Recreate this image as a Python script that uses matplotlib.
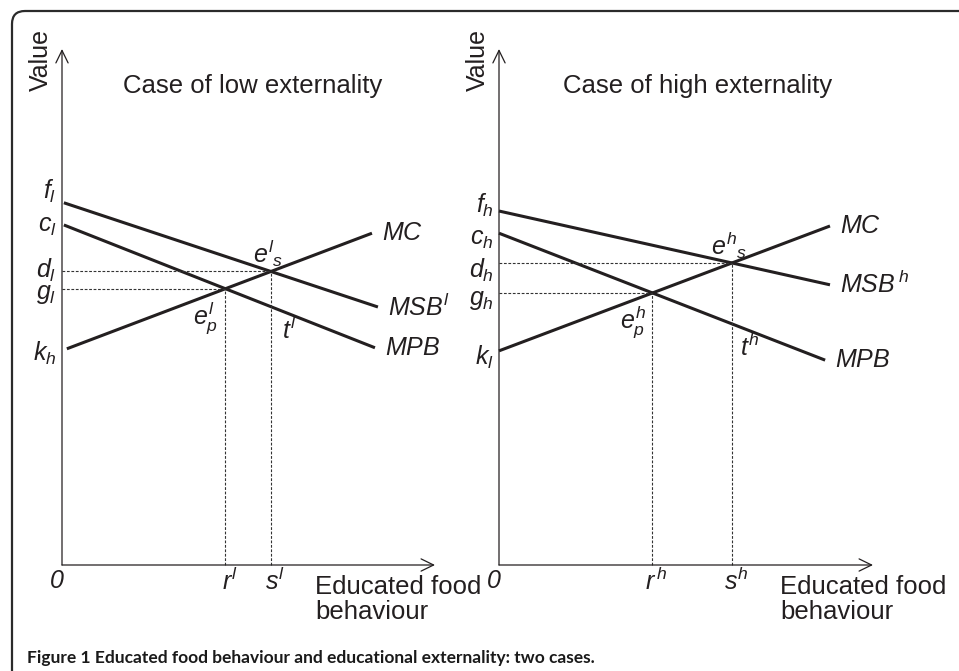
import matplotlib
matplotlib.use("Agg")
import matplotlib.pyplot as plt
from matplotlib.patches import FancyBboxPatch

plt.rcParams['font.family'] = ['Liberation Sans', 'DejaVu Sans']
plt.rcParams['mathtext.fontset'] = 'custom'
plt.rcParams['mathtext.it'] = 'Liberation Sans:italic'
plt.rcParams['mathtext.rm'] = 'Liberation Sans'
plt.rcParams['mathtext.default'] = 'it'

INK = '#231f20'
LAB = 18

# ---- data (axis units: 0..10 on both axes) ----
# low externality panel
low_msb_x = [0.05, 8.47]
low_msb_y = [7.02, 5.00]
low_mpb_x = [0.05, 8.39]
low_mpb_y = [6.59, 4.21]
low_mc_x = [0.13, 8.31]
low_mc_y = [4.19, 6.43]
low_axis_labels = ['$f_l$', '$c_l$', '$d_l$', '$g_l$', '$k_h$']
low_curve_labels = ['$MSB^l$', '$MPB$', '$MC$']
low_pt_labels = ['$e^{l}{}_{s}$', '$e^{l}_{p}$', '$t^l$', '$r^l$', '$s^l$']

# high externality panel
high_msb_x = [0.0, 8.85]
high_msb_y = [6.86, 5.43]
high_mpb_x = [0.0, 8.72]
high_mpb_y = [6.43, 3.97]
high_mc_x = [0.0, 8.85]
high_mc_y = [4.15, 6.57]
high_axis_labels = ['$f_h$', '$c_h$', '$d_h$', '$g_h$', '$k_l$']
high_curve_labels = ['$MSB^{\\,h}$', '$MPB$', '$MC$']
high_pt_labels = ['$e^{h}{}_{s}$', '$e^{h}_{p}$', '$t^h$', '$r^{\\,h}$', '$s^h$']

titles = ['Case of low externality', 'Case of high externality']


def line_coef(xs, ys):
    m = (ys[1] - ys[0]) / (xs[1] - xs[0])
    return m, ys[0] - m * xs[0]


def crossing(a, b):
    m1, b1 = line_coef(*a)
    m2, b2 = line_coef(*b)
    x = (b2 - b1) / (m1 - m2)
    return x, m1 * x + b1


fig = plt.figure(figsize=(9.59, 6.71), dpi=100)

# rounded frame
bg = fig.add_axes([0, 0, 1, 1])
bg.set_xlim(0, 959)
bg.set_ylim(671, 0)
bg.axis('off')
bg.add_patch(FancyBboxPatch((12, 11), 1000, 700,
                            boxstyle='round,pad=0,rounding_size=13',
                            fc='white', ec='#2b2b2b', lw=1.6))


def panel(rect, msb, mpb, mc, axis_labels, curve_labels, pt_labels, title,
          lab_dy, text_x, title_x):
    ax = fig.add_axes(rect)
    ax.set_xlim(0, 10)
    ax.set_ylim(0, 10)
    ax.axis('off')

    arrow = dict(arrowstyle='->,head_length=0.45,head_width=0.22',
                 lw=0.9, color=INK, shrinkA=0, shrinkB=0, mutation_scale=20)
    ax.annotate('', xy=(0, 10), xytext=(0, 0), arrowprops=arrow, annotation_clip=False)
    ax.annotate('', xy=(10, 0), xytext=(0, 0), arrowprops=arrow, annotation_clip=False)

    for xs, ys in (msb, mpb, mc):
        ax.plot(xs, ys, color=INK, lw=2.2, solid_capstyle='butt', clip_on=False)

    es = crossing(msb, mc)
    ep = crossing(mpb, mc)
    m, b = line_coef(*mpb)
    tp = (es[0], m * es[0] + b)

    dash = dict(color='#333333', lw=0.8, ls=(0, (2.5, 1.5)), clip_on=False)
    for px, py in (es, ep):
        ax.plot([0, px], [py, py], **dash)
        ax.plot([px, px], [0, py], **dash)

    # value labels on the vertical axis
    ys = [msb[1][0], mpb[1][0], es[1], ep[1], mc[1][0]]
    for lab, y, dy in zip(axis_labels, ys, lab_dy):
        ax.annotate(lab, xy=(0, y), xytext=(-4, dy), textcoords='offset points',
                    ha='right', va='center', fontsize=LAB, color=INK,
                    annotation_clip=False)

    # curve names at line ends
    for lab, (xs, ys_) in zip(curve_labels, (msb, mpb, mc)):
        ax.annotate(lab, xy=(xs[1], ys_[1]), xytext=(7, 0), textcoords='offset points',
                    ha='left', va='center', fontsize=LAB, color=INK,
                    annotation_clip=False)

    # points
    ax.annotate(pt_labels[0], xy=es, xytext=(-2, 13), textcoords='offset points',
                ha='center', va='center', fontsize=LAB, color=INK)
    ax.annotate(pt_labels[1], xy=ep, xytext=(-14, -21), textcoords='offset points',
                ha='center', va='center', fontsize=LAB, color=INK)
    ax.annotate(pt_labels[2], xy=tp, xytext=(13, -17), textcoords='offset points',
                ha='center', va='center', fontsize=LAB, color=INK)
    ax.annotate(pt_labels[3], xy=(ep[0], 0), xytext=(3, -2), textcoords='offset points',
                ha='center', va='top', fontsize=LAB, color=INK, annotation_clip=False)
    ax.annotate(pt_labels[4], xy=(es[0], 0), xytext=(3, -2), textcoords='offset points',
                ha='center', va='top', fontsize=LAB, color=INK, annotation_clip=False)
    ax.annotate('0', xy=(0, 0), xytext=(-4, -3), textcoords='offset points',
                ha='center', va='top', fontsize=LAB, style='italic', color=INK,
                annotation_clip=False)

    ax.text(text_x, 0, 'Educated food\nbehaviour', fontsize=18.5, color=INK,
            ha='left', va='top', linespacing=1.05,
            transform=ax.transData + matplotlib.transforms.ScaledTranslation(0, -0.1, fig.dpi_scale_trans))
    ax.text(-0.56, 9.79, 'Value', rotation=90, fontsize=18, color=INK,
            ha='center', va='center', clip_on=False)
    ax.text(title_x, 9.15, title, fontsize=18.5, color=INK, ha='left', va='baseline')
    return ax


panel([62 / 959, 106 / 671, 373 / 959, 516 / 671],
      (low_msb_x, low_msb_y), (low_mpb_x, low_mpb_y), (low_mc_x, low_mc_y),
      low_axis_labels, low_curve_labels, low_pt_labels, titles[0],
      [8, -1, 1, -4, -3], 6.78, 1.64)
panel([499 / 959, 106 / 671, 374 / 959, 516 / 671],
      (high_msb_x, high_msb_y), (high_mpb_x, high_mpb_y), (high_mc_x, high_mc_y),
      high_axis_labels, high_curve_labels, high_pt_labels, titles[1],
      [4, -4, -5, -5, -5], 7.51, 1.71)

fig.text(27 / 959, 1 - 663 / 671,
         'Figure 1 Educated food behaviour and educational externality: two cases.',
         fontsize=12.5, fontweight='bold', color='#1a1a1a', ha='left', va='baseline',
         family=['Lato', 'DejaVu Sans'])

fig.savefig('out.png', dpi=100)
